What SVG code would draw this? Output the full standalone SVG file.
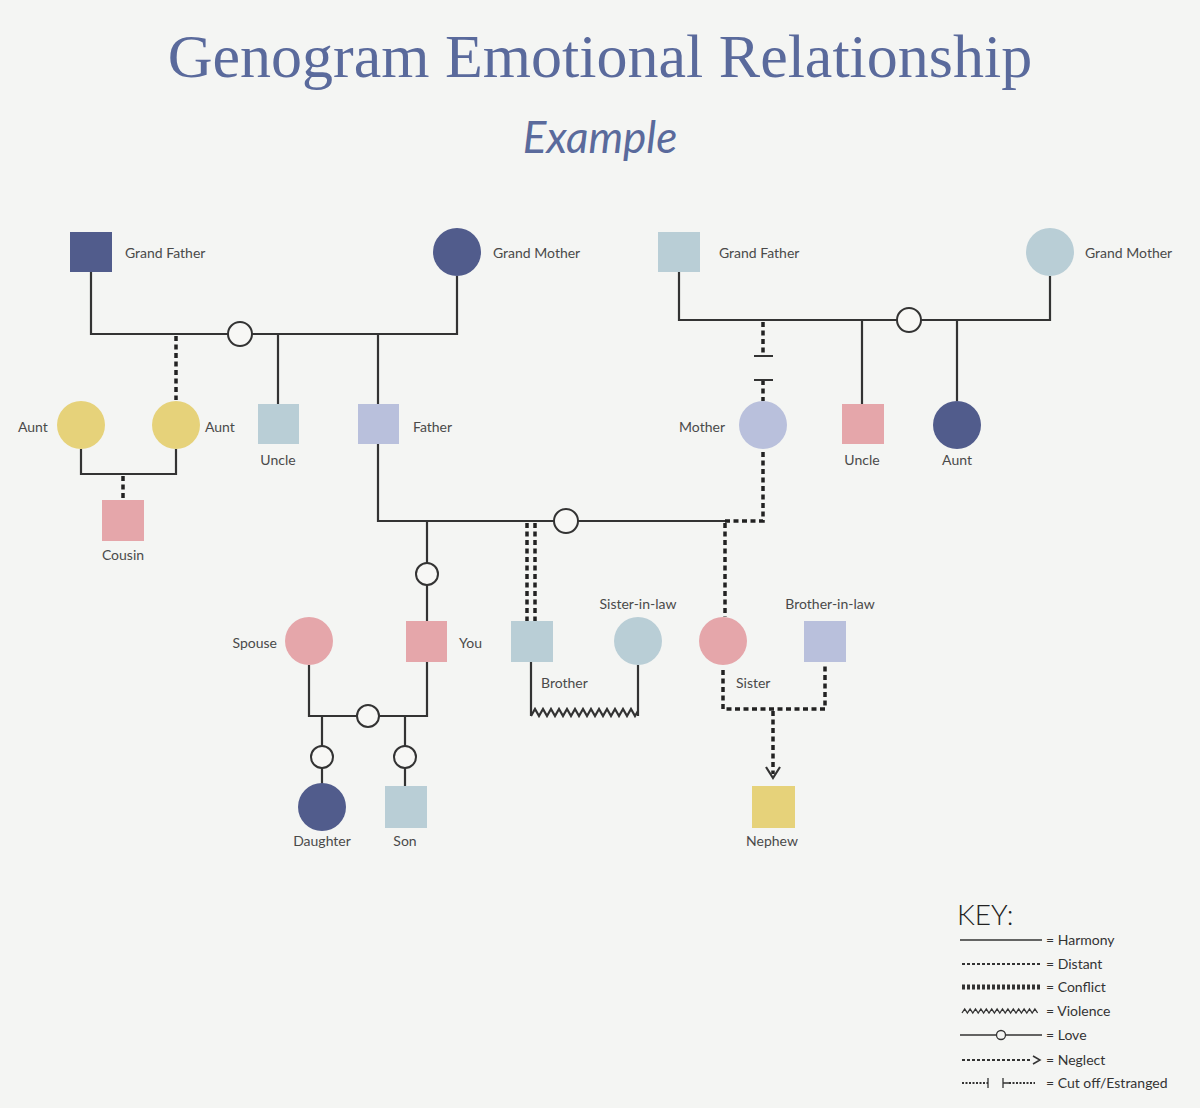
<svg xmlns="http://www.w3.org/2000/svg" width="1200" height="1108" viewBox="0 0 1200 1108">
<defs>
<style>
.t{font-family:"Lato","Liberation Sans",sans-serif;font-size:14px;fill:#4a4a4a}
.m{text-anchor:middle}.e{text-anchor:end}
.h{fill:none;stroke:#333;stroke-width:2.2}
.d{fill:none;stroke:#222;stroke-width:3.5;stroke-dasharray:5 3.5}
.c{fill:none;stroke:#222;stroke-width:3;stroke-dasharray:6 3}
.love{fill:#f7f7f5;stroke:#333;stroke-width:2}
.nv{fill:#515c8c}.yl{fill:#e6d27a}.pk{fill:#e5a6aa}.lb{fill:#b9ced6}.lv{fill:#b9c0dc}
</style>
</defs>
<rect width="1200" height="1108" fill="#f4f5f3"/>
<text x="600" y="77" text-anchor="middle" font-family="Liberation Serif,serif" font-size="62" fill="#5a6a9c">Genogram Emotional Relationship</text>
<text x="600" y="153" text-anchor="middle" font-family="Lato,Liberation Sans,sans-serif" font-style="italic" font-size="44" fill="#5a6a9c">Example</text>

<g id="connectors">
<path class="h" d="M91 272V334H457V276M278 334V404M378 334V404"/>
<path class="d" d="M176 336V400"/>
<path class="h" d="M81 449V474H176V449"/>
<path class="d" d="M123 476V500"/>
<path class="h" d="M679 272V320H1050V276M862 320V404M957 320V401"/>
<path class="d" d="M763 322V356M763 380V401"/>
<path class="h" d="M754 356H773M754 380H773"/>
<path class="h" d="M378 444V521H725"/>
<path class="d" d="M725 521H763V449"/>
<path class="h" d="M427 521V621"/>
<path class="d" d="M527 523V621M535 523V621"/>
<path class="d" d="M725 523V617"/>
<path class="h" d="M531 662V716M638 665V716"/>
<path class="h" stroke-width="1.8" d="M531 716l4-7 4 7 4-7 4 7 4-7 4 7 4-7 4 7 4-7 4 7 4-7 4 7 4-7 4 7 4-7 4 7 4-7 4 7 4-7 4 7 4-7 4 7 4-7 4 7 4-7 4 7 3-5"/>
<path class="d" d="M723 670V709H825V665M773 711V774"/>
<path class="h" stroke-width="2" d="M766 767l7 11 7-11"/>
<path class="h" d="M309 665V716H427V662M322 716V784M405 716V786"/>
<circle class="love" cx="240" cy="334" r="12"/>
<circle class="love" cx="909" cy="320" r="12"/>
<circle class="love" cx="566" cy="521" r="12"/>
<circle class="love" cx="427" cy="574" r="11"/>
<circle class="love" cx="368" cy="716" r="11"/>
<circle class="love" cx="322" cy="757" r="11"/>
<circle class="love" cx="405" cy="757" r="11"/>
</g>

<g id="gf1"><rect class="nv" x="70" y="232" width="42" height="40"/><text class="t" x="125" y="258">Grand Father</text></g>
<g id="gm1"><circle class="nv" cx="457" cy="252" r="24"/><text class="t" x="493" y="258">Grand Mother</text></g>
<g id="gf2"><rect class="lb" x="658" y="232" width="42" height="40"/><text class="t" x="719" y="258">Grand Father</text></g>
<g id="gm2"><circle class="lb" cx="1050" cy="252" r="24"/><text class="t" x="1085" y="258">Grand Mother</text></g>
<g id="aunt1"><circle class="yl" cx="81" cy="425" r="24"/><text class="t" x="18" y="432">Aunt</text></g>
<g id="aunt2"><circle class="yl" cx="176" cy="425" r="24"/><text class="t" x="205" y="432">Aunt</text></g>
<g id="cousin"><rect class="pk" x="102" y="500" width="42" height="41"/><text class="t m" x="123" y="560">Cousin</text></g>
<g id="uncle1"><rect class="lb" x="258" y="404" width="41" height="40"/><text class="t m" x="278" y="465">Uncle</text></g>
<g id="father"><rect class="lv" x="358" y="404" width="41" height="40"/><text class="t" x="413" y="432">Father</text></g>
<g id="mother"><circle class="lv" cx="763" cy="425" r="24"/><text class="t e" x="725" y="432">Mother</text></g>
<g id="uncle2"><rect class="pk" x="842" y="404" width="42" height="40"/><text class="t m" x="862" y="465">Uncle</text></g>
<g id="aunt3"><circle class="nv" cx="957" cy="425" r="24"/><text class="t m" x="957" y="465">Aunt</text></g>
<g id="spouse"><circle class="pk" cx="309" cy="641" r="24"/><text class="t e" x="277" y="648">Spouse</text></g>
<g id="you"><rect class="pk" x="406" y="621" width="41" height="41"/><text class="t" x="459" y="648">You</text></g>
<g id="brother"><rect class="lb" x="511" y="621" width="42" height="41"/><text class="t" x="541" y="688">Brother</text></g>
<g id="sil"><circle class="lb" cx="638" cy="641" r="24"/><text class="t m" x="638" y="609">Sister-in-law</text></g>
<g id="sister"><circle class="pk" cx="723" cy="641" r="24"/><text class="t" x="736" y="688">Sister</text></g>
<g id="bil"><rect class="lv" x="804" y="621" width="42" height="41"/><text class="t m" x="830" y="609">Brother-in-law</text></g>
<g id="daughter"><circle class="nv" cx="322" cy="807" r="24"/><text class="t m" x="322" y="846">Daughter</text></g>
<g id="son"><rect class="lb" x="385" y="786" width="42" height="42"/><text class="t m" x="405" y="846">Son</text></g>
<g id="nephew"><rect class="yl" x="752" y="786" width="43" height="42"/><text class="t m" x="772" y="846">Nephew</text></g>

<g id="key">
<text x="957" y="925" font-family="Lato,Liberation Sans,sans-serif" font-size="28" font-weight="300" fill="#222">KEY:</text>
<path stroke="#333" stroke-width="1.3" d="M960 940H1042"/>
<path stroke="#333" stroke-width="2" stroke-dasharray="3 2" d="M962 964H1042"/>
<path stroke="#333" stroke-width="5" stroke-dasharray="3 2" d="M962 987H1042"/>
<path fill="none" stroke="#333" stroke-width="1.3" d="M962 1013l2.7-4 2.7 4 2.7-4 2.7 4 2.7-4 2.7 4 2.7-4 2.7 4 2.7-4 2.7 4 2.7-4 2.7 4 2.7-4 2.7 4 2.7-4 2.7 4 2.7-4 2.7 4 2.7-4 2.7 4 2.7-4 2.7 4 2.7-4 2.7 4 2.7-4 2.7 4 2.7-4 2.7 4"/>
<path stroke="#333" stroke-width="1.3" d="M960 1035H996M1006 1035H1042"/>
<circle cx="1001" cy="1035" r="4.5" fill="#f4f5f3" stroke="#333" stroke-width="1.3"/>
<path stroke="#333" stroke-width="2" stroke-dasharray="3 2" d="M962 1060H1032"/>
<path fill="none" stroke="#333" stroke-width="1.5" d="M1033 1056l7 4-7 4"/>
<path stroke="#333" stroke-width="2" stroke-dasharray="2 1.5" d="M962 1083H988M1009 1083H1035"/>
<path stroke="#333" stroke-width="1.3" d="M988 1078V1088M1003 1078V1088M1003 1083H1009"/>
<g class="t" style="font-size:14px;fill:#333">
<text x="1046" y="945">= Harmony</text>
<text x="1046" y="969">= Distant</text>
<text x="1046" y="992">= Conflict</text>
<text x="1046" y="1016">= Violence</text>
<text x="1046" y="1040">= Love</text>
<text x="1046" y="1065">= Neglect</text>
<text x="1046" y="1088">= Cut off/Estranged</text>
</g>
</g>
</svg>
